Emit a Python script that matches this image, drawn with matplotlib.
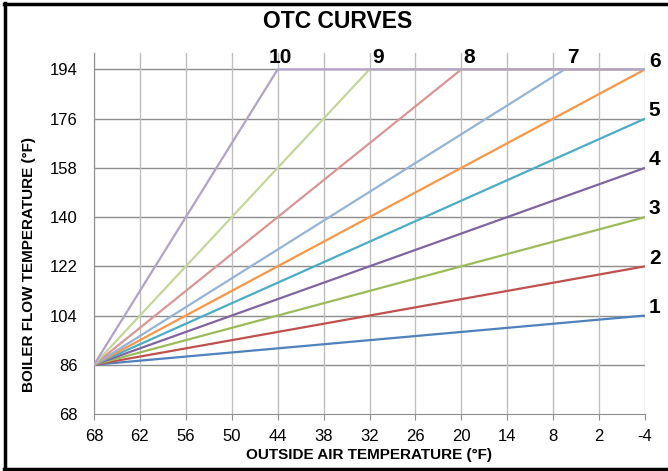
import numpy as np
import matplotlib
matplotlib.use("Agg")
import matplotlib.pyplot as plt
from matplotlib.lines import Line2D

# Curve data: every curve starts at (68 F, 86 F)
curve_names = ["1", "2", "3", "4", "5", "6", "7", "8", "9", "10"]
start_oat = 68
start_flow = 86
# outside temp where each curve reaches its top value
break_oat = [-4, -4, -4, -4, -4, -4, 6.5, 20, 32, 44]
# flow temp at that point
break_flow = [104, 122, 140, 158, 176, 194, 194, 194, 194, 194]
end_oat = -4

x_ticks = [68, 62, 56, 50, 44, 38, 32, 26, 20, 14, 8, 2, -4]
y_ticks = [68, 86, 104, 122, 140, 158, 176, 194]

colors = ["#4F81BD", "#C0504D", "#9BBB59", "#8064A2", "#4BACC6",
          "#F79646", "#95B3D7", "#D99694", "#C3D69B", "#B3A2C7"]

plt.rcParams["font.family"] = ["Liberation Sans", "DejaVu Sans"]

fig = plt.figure(figsize=(6.68, 4.71), dpi=100)
ax = fig.add_axes([94 / 668, 1 - 414 / 471, 551 / 668, 361 / 471])

# Grid lines (Excel style: darker horizontals, lighter verticals)
for y in y_ticks[1:]:
    ax.axhline(y, color="#8C8C8C", lw=1.0, zorder=0)
for x in x_ticks:
    ax.axvline(x, color="#BEBEBE", lw=1.0, zorder=0)

# Draw curves
for i, name in enumerate(curve_names):
    xs = [start_oat, break_oat[i]]
    ys = [start_flow, break_flow[i]]
    if break_oat[i] != end_oat:
        xs.append(end_oat)
        ys.append(break_flow[i])
    ax.plot(xs, ys, color=colors[i], lw=1.6, solid_capstyle="butt", zorder=2 + i)

    # curve numbers
    if break_oat[i] == end_oat:
        ax.text(end_oat - 0.5, break_flow[i] + 3.0, name, fontsize=15, fontweight="bold",
                ha="left", va="center", clip_on=False)
    else:
        ax.text(break_oat[i] - 0.3, break_flow[i] + 4.4, name, fontsize=15, fontweight="bold",
                ha="left" if len(name) == 1 else "center", va="center", clip_on=False)

ax.set_xlim(68, -4)
ax.set_ylim(68, 200)
ax.set_xticks(x_ticks)
ax.set_xticklabels([str(v) for v in x_ticks])
ax.set_yticks(y_ticks)
ax.set_yticklabels([str(v) for v in y_ticks])
ax.tick_params(axis="x", length=4, color="#8C8C8C", labelsize=12, pad=7)
ax.tick_params(axis="y", length=0, labelsize=12, pad=12)
for side in ["top", "right"]:
    ax.spines[side].set_visible(False)
for side in ["left", "bottom"]:
    ax.spines[side].set_color("#8C8C8C")

ax.set_xlabel("OUTSIDE AIR TEMPERATURE (°F)", fontsize=11, fontweight="bold", labelpad=3)
ax.set_ylabel("BOILER FLOW TEMPERATURE (°F)", fontsize=11, fontweight="bold", labelpad=6)
ax.yaxis.set_label_coords(-0.105, 0.413)
fig.text(338 / 668, 1 - 22 / 471, "OTC CURVES", fontsize=16.5, fontweight="bold",
         ha="center", va="center")

# Black frame round the chart (right edge falls off the picture)
fig.add_artist(Line2D([4.5 / 668, 4.5 / 668], [1 - 3 / 471, 1 - 468.5 / 471],
                      transform=fig.transFigure, color="black", lw=2.5))
fig.add_artist(Line2D([3.5 / 668, 1], [1 - 3.5 / 471, 1 - 3.5 / 471],
                      transform=fig.transFigure, color="black", lw=2.5))
fig.add_artist(Line2D([3.5 / 668, 1], [1 - 468.5 / 471, 1 - 468.5 / 471],
                      transform=fig.transFigure, color="black", lw=2.5))

fig.savefig("out.png", dpi=100)
